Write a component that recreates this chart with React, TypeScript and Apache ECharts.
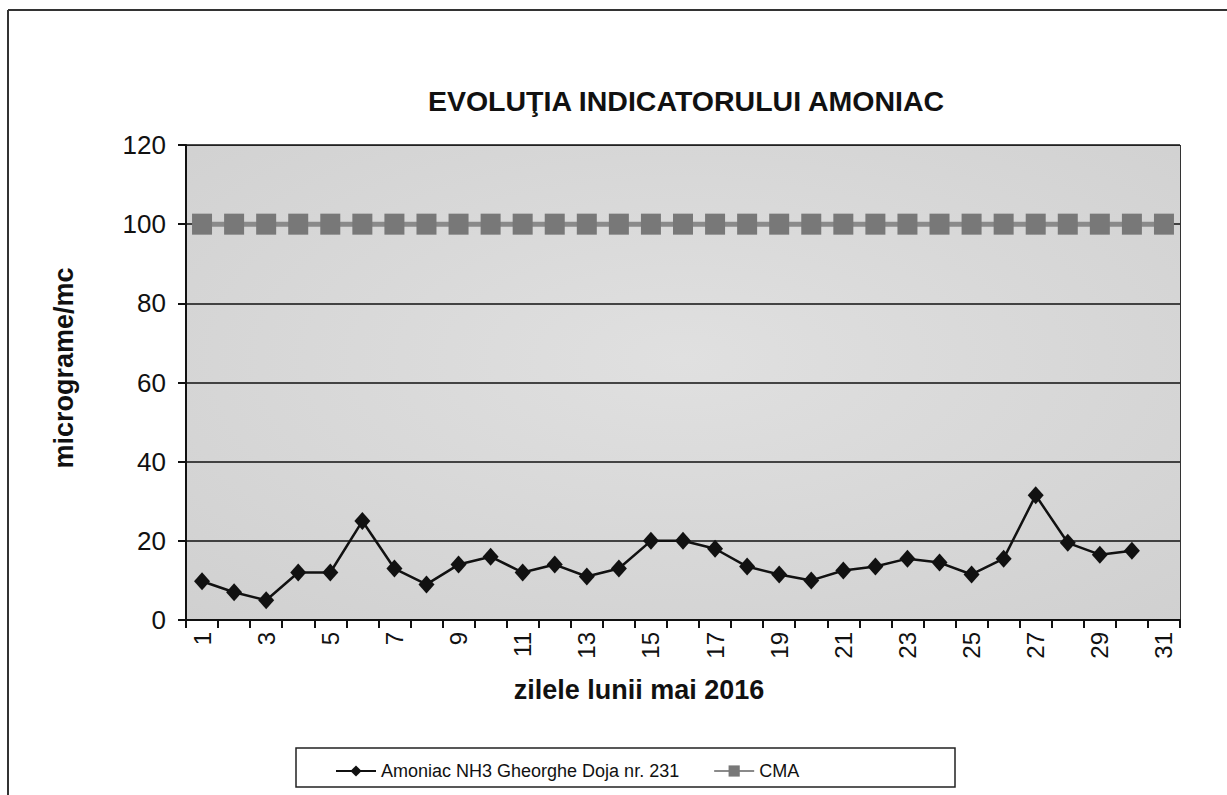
import React, { useEffect, useRef } from "react";
import * as echarts from "echarts";

const days: string[] = Array.from({ length: 31 }, (_, i) => String(i + 1));
const amoniac: number[] = [
  9.8, 7, 5, 12, 12, 25, 13, 9, 14, 16, 12, 14, 11, 13, 20, 20, 18, 13.5, 11.5, 10,
  12.5, 13.5, 15.5, 14.5, 11.5, 15.5, 31.5, 19.5, 16.5, 17.5,
];
const cma: number[] = days.map(() => 100);
const titleText = "EVOLUŢIA INDICATORULUI AMONIAC";
const yName = "micrograme/mc";
const xName = "zilele lunii mai 2016";
const seriesNames = ["Amoniac NH3 Gheorghe Doja nr. 231", "CMA"];

const FONT = "'Liberation Sans', Arial, sans-serif";

export default function App() {
  const ref = useRef<HTMLDivElement>(null);
  useEffect(() => {
    if (!ref.current) return;
    const chart = echarts.init(ref.current, undefined, { renderer: "svg" });
    chart.setOption({
      animation: false,
      backgroundColor: "#ffffff",
      textStyle: { fontFamily: FONT, color: "#111" },
      title: {
        text: titleText,
        left: 681,
        top: 81,
        textAlign: "center",
        textStyle: { fontFamily: FONT, fontSize: 28.5, fontWeight: "bold", color: "#111" },
      },
      grid: {
        left: 186,
        right: 47,
        top: 145,
        bottom: 175,
        show: true,
        borderWidth: 0,
        backgroundColor: {
          type: "radial",
          x: 0.5,
          y: 0.45,
          r: 0.8,
          colorStops: [
            { offset: 0, color: "#e0e0e0" },
            { offset: 1, color: "#cfcfcf" },
          ],
        },
      },
      legend: {
        left: 330,
        top: 757,
        itemWidth: 40,
        itemHeight: 14,
        itemGap: 34,
        textStyle: { fontFamily: FONT, fontSize: 18, color: "#111" },
        data: seriesNames,
      },
      graphic: [
        { type: "line", shape: { x1: 8, y1: 10, x2: 1227, y2: 10 }, style: { stroke: "#333", lineWidth: 2 } },
        { type: "line", shape: { x1: 8, y1: 10, x2: 8, y2: 795 }, style: { stroke: "#333", lineWidth: 2 } },
        {
          type: "rect",
          shape: { x: 296, y: 748, width: 659, height: 39 },
          style: { fill: "none", stroke: "#222", lineWidth: 1.5 },
        },
        {
          type: "rect",
          shape: { x: 1180, y: 145, width: 1, height: 475 },
          style: { fill: "#333" },
        },
        {
          type: "rect",
          shape: { x: 186, y: 145, width: 994, height: 1 },
          style: { fill: "#555" },
        },
        {
          type: "text",
          x: 639,
          y: 690,
          style: {
            text: xName,
            fontFamily: FONT,
            fontSize: 27,
            fontWeight: "bold",
            fill: "#111",
            align: "center",
            verticalAlign: "middle",
          },
        },
        {
          type: "text",
          x: 64,
          y: 368,
          rotation: Math.PI / 2,
          style: {
            text: yName,
            fontFamily: FONT,
            fontSize: 27,
            fontWeight: "bold",
            fill: "#111",
            align: "center",
            verticalAlign: "middle",
          },
        },
      ],
      xAxis: {
        type: "category",
        data: days,
        boundaryGap: true,
        axisLine: { lineStyle: { color: "#111", width: 2 } },
        axisTick: { show: true, interval: 0, length: 8, lineStyle: { color: "#111", width: 2 } },
        axisLabel: {
          interval: 1,
          rotate: 90,
          fontSize: 24,
          fontFamily: FONT,
          color: "#111",
          margin: 12,
        },
        splitLine: { show: false },
      },
      yAxis: {
        type: "value",
        min: 0,
        max: 120,
        interval: 20,
        axisLine: { show: true, lineStyle: { color: "#111", width: 2 } },
        axisTick: { show: true, length: 8, lineStyle: { color: "#111", width: 2 } },
        axisLabel: { fontSize: 26, fontFamily: FONT, color: "#111", margin: 20 },
        splitLine: { show: true, lineStyle: { color: "#111", width: 1.5 } },
      },
      series: [
        {
          name: seriesNames[0],
          type: "line",
          data: amoniac,
          symbol: "diamond",
          symbolSize: [16, 18],
          itemStyle: { color: "#111" },
          lineStyle: { color: "#111", width: 2.5 },
          z: 3,
        },
        {
          name: seriesNames[1],
          type: "line",
          data: cma,
          symbol: "rect",
          symbolSize: [20, 21],
          itemStyle: { color: "#787878", borderRadius: 3 },
          lineStyle: { color: "#8a8a8a", width: 5 },
          z: 2,
        },
      ],
    });
    return () => chart.dispose();
  }, []);
  return (
    <div
      ref={ref}
      style={{ position: "fixed", left: 0, top: 0, width: 1227, height: 795 }}
    />
  );
}
